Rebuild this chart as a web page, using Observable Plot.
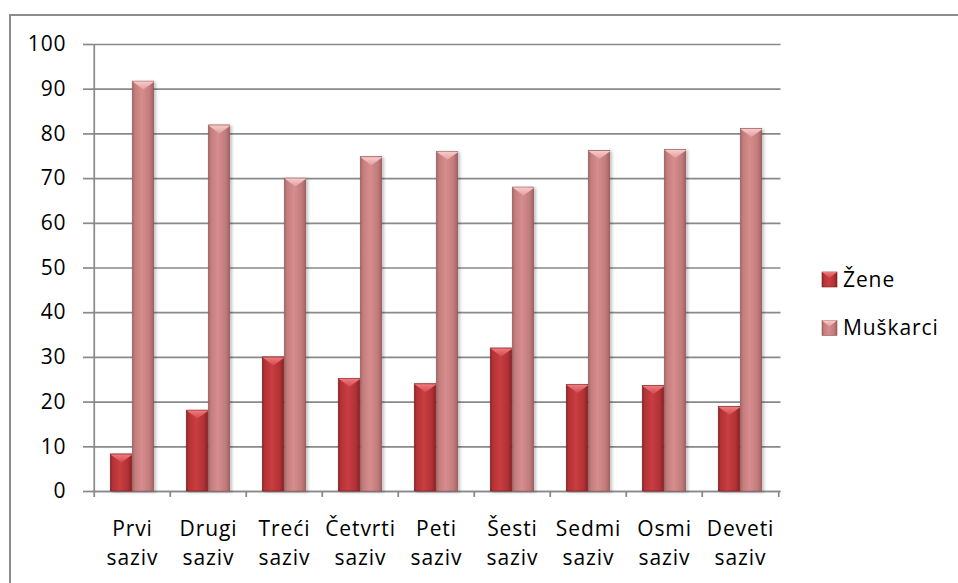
<!DOCTYPE html>
<html><head><meta charset="utf-8">
<script src="https://cdn.jsdelivr.net/npm/d3@7"></script>
<script src="https://cdn.jsdelivr.net/npm/@observablehq/plot@0.6"></script>
<style>
html,body{margin:0;padding:0;background:#fff;}
#wrap{position:relative;width:958px;height:583px;overflow:hidden;font-family:"Open Sans",sans-serif;}
#border{position:absolute;left:9px;top:14px;width:1000px;height:1000px;border-left:2px solid #8c8c8c;border-top:2px solid #8c8c8c;}
#chart{position:absolute;left:0;top:0;}
#legend{position:absolute;left:0;top:0;pointer-events:none;}
</style></head><body>
<div id="wrap"><div id="border"></div><div id="chart"></div>
<svg id="legend" width="958" height="583" xmlns="http://www.w3.org/2000/svg">
<defs>
<linearGradient id="gZ" x1="0" x2="1" y1="0" y2="0">
<stop offset="0" stop-color="#8c2427"/><stop offset="0.12" stop-color="#b53236"/><stop offset="0.45" stop-color="#c93d41"/><stop offset="0.82" stop-color="#b23134"/><stop offset="1" stop-color="#872225"/>
</linearGradient>
<linearGradient id="gM" x1="0" x2="1" y1="0" y2="0">
<stop offset="0" stop-color="#a56666"/><stop offset="0.14" stop-color="#c57d7d"/><stop offset="0.45" stop-color="#d68d8d"/><stop offset="0.82" stop-color="#c27a7a"/><stop offset="1" stop-color="#9c6060"/>
</linearGradient>
<linearGradient id="tZ" x1="0" x2="0" y1="0" y2="1">
<stop offset="0" stop-color="#f07a7e"/><stop offset="1" stop-color="#d04a4e"/>
</linearGradient>
<linearGradient id="tM" x1="0" x2="0" y1="0" y2="1">
<stop offset="0" stop-color="#f8caca"/><stop offset="1" stop-color="#e0a0a0"/>
</linearGradient>
<filter id="shadow" x="-20%" y="-5%" width="150%" height="115%">
<feDropShadow dx="2" dy="1" stdDeviation="1.5" flood-color="#000" flood-opacity="0.25"/>
</filter>
</defs>
<g id="legendItems"></g>
</svg>
</div>
<script>
const categories = ["Prvi","Drugi","Treći","Četvrti","Peti","Šesti","Sedmi","Osmi","Deveti"];
const categoryLabels = ["Prvi\nsaziv","Drugi\nsaziv","Treći\nsaziv","Četvrti\nsaziv","Peti\nsaziv","Šesti\nsaziv","Sedmi\nsaziv","Osmi\nsaziv","Deveti\nsaziv"];
const zene = [8.3, 18.1, 30.0, 25.2, 24.0, 32.0, 23.8, 23.6, 18.9];
const muskarci = [91.7, 81.9, 70.0, 74.8, 76.0, 68.0, 76.2, 76.4, 81.1];
const seriesNames = ["Žene", "Muškarci"];
const yTicks = [0, 10, 20, 30, 40, 50, 60, 70, 80, 90, 100];

const zData = categories.map((c, i) => ({cat: c, value: zene[i]}));
const mData = categories.map((c, i) => ({cat: c, value: muskarci[i]}));
const labelOf = new Map(categories.map((c, i) => [c, categoryLabels[i]]));

const W = 958, H = 583;
const mL = 92, mR = 177.5, mT = 44, mB = 92;
const band = (W - mL - mR) / categories.length;
const barW = 22;
const half = band / 2;
const gray = "#898989";
const FS = 21;

const bevel = {draw(ctx) { ctx.moveTo(-barW/2, 0); ctx.lineTo(barW/2, 0); ctx.lineTo(0, 8); ctx.closePath(); }};

const chart = Plot.plot({
  width: W, height: H,
  marginLeft: mL, marginRight: mR, marginTop: mT, marginBottom: mB,
  style: {fontFamily: "'Open Sans', sans-serif", fontSize: FS + "px", letterSpacing: "0.9px", color: "#000", background: "transparent", overflow: "visible"},
  x: {type: "band", domain: categories, padding: 0, axis: null},
  y: {domain: [0, 100], axis: null},
  marks: [
    Plot.gridY(yTicks, {stroke: gray, strokeOpacity: 1, strokeWidth: 1.7}),
    Plot.axisY(yTicks, {label: null, tickSize: 9, tickPadding: 17, stroke: gray, strokeWidth: 1.7, fontSize: FS, fill: "#000", tickFormat: d => String(d)}),
    Plot.ruleY([0], {stroke: gray, strokeWidth: 1.7}),
    Plot.ruleX([categories[0]], {x: d => d, dx: -half, y1: 0, y2: 100, stroke: gray, strokeWidth: 1.7}),
    Plot.ruleX(categories, {x: d => d, dx: -half, y1: 0, y2: 0, insetBottom: -6, stroke: gray, strokeWidth: 1.7}),
    Plot.ruleX([categories[categories.length - 1]], {x: d => d, dx: half, y1: 0, y2: 0, insetBottom: -6, stroke: gray, strokeWidth: 1.7}),
    Plot.barY(zData, {x: "cat", y: "value", fill: "url(#gZ)", stroke: "#7a1f22", strokeWidth: 0.6, insetLeft: half - barW, insetRight: half}),
    Plot.barY(mData, {x: "cat", y: "value", fill: "url(#gM)", stroke: "#935858", strokeWidth: 0.6, insetLeft: half, insetRight: half - barW}),
    Plot.dot(zData, {x: "cat", y: "value", dx: -barW/2, symbol: bevel, fill: "url(#tZ)", stroke: "none"}),
    Plot.dot(mData, {x: "cat", y: "value", dx: barW/2, symbol: bevel, fill: "url(#tM)", stroke: "none"}),
    Plot.text(categories, {x: d => d, frameAnchor: "bottom", dy: 22.7, text: d => labelOf.get(d), lineAnchor: "top", lineHeight: 30 / FS, fontSize: FS, fill: "#000"})
  ]
});
document.getElementById("chart").appendChild(chart);
chart.querySelectorAll('g[aria-label="bar"]').forEach(g => g.setAttribute("filter", "url(#shadow)"));

// legend
const ns = "http://www.w3.org/2000/svg";
const lg = document.getElementById("legendItems");
const legendFills = [["url(#gZ)", "url(#tZ)", "#7a1f22"], ["url(#gM)", "url(#tM)", "#935858"]];
seriesNames.forEach((name, i) => {
  const top = 272 + i * 48.5;
  const r = document.createElementNS(ns, "rect");
  r.setAttribute("x", 822); r.setAttribute("y", top); r.setAttribute("width", 15); r.setAttribute("height", 15);
  r.setAttribute("fill", legendFills[i][0]); r.setAttribute("stroke", legendFills[i][2]); r.setAttribute("stroke-width", 0.6);
  lg.appendChild(r);
  const t = document.createElementNS(ns, "path");
  t.setAttribute("d", `M822,${top}L837,${top}L829.5,${top + 6}Z`);
  t.setAttribute("fill", legendFills[i][1]);
  lg.appendChild(t);
  const tx = document.createElementNS(ns, "text");
  tx.setAttribute("x", 843); tx.setAttribute("y", top + 14.5);
  tx.setAttribute("font-family", "'Open Sans', sans-serif"); tx.setAttribute("font-size", FS + "px"); tx.setAttribute("letter-spacing", "0.9px"); tx.setAttribute("fill", "#000");
  tx.textContent = name;
  lg.appendChild(tx);
});
</script>
</body></html>
